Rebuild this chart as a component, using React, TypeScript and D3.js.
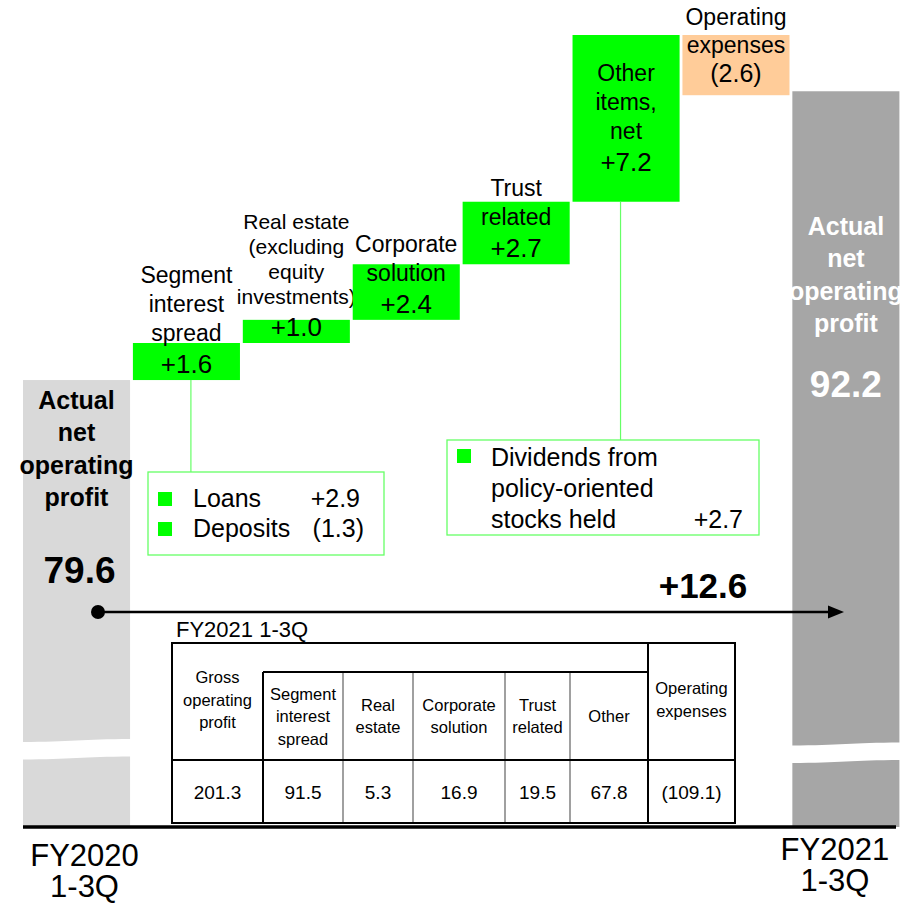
import React from "react";
import * as d3 from "d3";

const categories = ["FY2020 1-3Q", "Segment interest spread", "Real estate", "Corporate solution", "Trust related", "Other items, net", "Operating expenses", "FY2021 1-3Q"];
const startValue = 79.6;
const endValue = 92.2;
const changes = [1.6, 1.0, 2.4, 2.7, 7.2, -2.6];
const changeLabels = ["+1.6", "+1.0", "+2.4", "+2.7", "+7.2", "(2.6)"];
const changeNames = [
  ["Segment", "interest", "spread"],
  ["Real estate", "(excluding", "equity", "investments)"],
  ["Corporate", "solution"],
  ["Trust", "related"],
  ["Other", "items,", "net"],
  ["Operating", "expenses"],
];
const totalLines = ["Actual", "net", "operating", "profit"];
const startLabel = "79.6";
const endLabel = "92.2";
const diffLabel = "+12.6";
const periodLabels = [["FY2020", "1-3Q"], ["FY2021", "1-3Q"]];

const spreadBreakdown = [
  { name: "Loans", value: "+2.9" },
  { name: "Deposits", value: "(1.3)" },
];
const otherBreakdown = { lines: ["Dividends from", "policy-oriented", "stocks held"], value: "+2.7" };

const tableTitle = "FY2021 1-3Q";
const tableHeaders = [
  ["Gross", "operating", "profit"],
  ["Segment", "interest", "spread"],
  ["Real", "estate"],
  ["Corporate", "solution"],
  ["Trust", "related"],
  ["Other"],
  ["Operating", "expenses"],
];
const tableValues = ["201.3", "91.5", "5.3", "16.9", "19.5", "67.8", "(109.1)"];

const FONT = "'Liberation Sans', Arial, sans-serif";
const GREEN = "#00ff00";
const LIGHT_GREEN = "#66ff66";

export default function App() {
  const W = 905, H = 903;
  const axisY = 827;
  const y = d3.scaleLinear().domain([60.3, 94.5]).range([axisY, 35]);
  const x = d3.scaleBand<string>().domain(categories).range([23, 899.4]).paddingInner(0.026).paddingOuter(0);
  const bw = x.bandwidth();

  let cum = startValue;
  const steps = changes.map((c, i) => {
    const from = cum;
    cum = cum + c;
    return { cat: categories[i + 1], from, to: cum, change: c, label: changeLabels[i], names: changeNames[i] };
  });

  const xStart = x(categories[0])!;
  const xEnd = x(categories[7])!;

  const breakPath = (x0: number, x1: number, yTop: number, gap: number) => {
    const w = x1 - x0;
    return `M${x0},${yTop + 1.5} C${x0 + w * 0.45},${yTop + 1.5} ${x0 + w * 0.55},${yTop - 1.5} ${x1},${yTop - 1.5}
      L${x1},${yTop - 1.5 + gap} C${x0 + w * 0.55},${yTop - 1.5 + gap} ${x0 + w * 0.45},${yTop + 1.5 + gap} ${x0},${yTop + 1.5 + gap} Z`;
  };

  const tCols = [172, 263, 343, 413, 505, 570, 648, 735];
  const tTop = 643, tSub = 672, tRow = 760, tBot = 823;

  const arrowY = 612;

  return (
    <svg width={W} height={H} style={{ position: "absolute", left: 0, top: 0, background: "#fff" }} fontFamily={FONT}>
      <rect x={0} y={0} width={W} height={H} fill="#fff" />
      <rect x={xStart} y={y(startValue)} width={bw} height={axisY - y(startValue)} fill="#d9d9d9" />
      <rect x={xEnd} y={y(endValue) + 3} width={bw} height={axisY - y(endValue) - 3} fill="#a6a6a6" />
      <path d={breakPath(xStart - 1, xStart + bw + 1, 740.5, 17.5)} fill="#fff" />
      <path d={breakPath(xEnd - 1, xEnd + bw + 1, 744, 17.5)} fill="#fff" />

      {steps.map((s) => {
        const top = y(Math.max(s.from, s.to));
        const bot = y(Math.min(s.from, s.to));
        const cx = x(s.cat)! + bw / 2;
        const neg = s.change < 0;
        const valueY = neg ? bot - 13 : Math.min(bot - 7, top + 136);
        const small = s.names.length > 3;
        const fs = small ? 21 : 23;
        const gap = small ? 25 : neg ? 28 : 29;
        const firstGap = neg ? 29 : 32;
        const names = s.names;
        return (
          <g key={s.cat}>
            <rect x={x(s.cat)} y={top} width={bw} height={bot - top} fill={neg ? "#ffcc99" : GREEN} />
            <text x={cx} y={valueY} textAnchor="middle" fontSize={neg ? 25 : 26} fill="#000">{s.label}</text>
            {names.map((n, j) => (
              <text key={j} x={cx} y={valueY - firstGap - (names.length - 1 - j) * gap} textAnchor="middle" fontSize={fs} fill="#000">{n}</text>
            ))}
          </g>
        );
      })}

      <line x1={x(categories[1])! + 58} x2={x(categories[1])! + 58} y1={y(startValue)} y2={472} stroke={LIGHT_GREEN} strokeWidth={1.2} />
      <line x1={x(categories[5])! + 48} x2={x(categories[5])! + 48} y1={y(steps[4].from)} y2={440} stroke={LIGHT_GREEN} strokeWidth={1.2} />

      <rect x={148} y={472} width={236} height={83} fill="#fff" stroke={LIGHT_GREEN} strokeWidth={1.3} />
      {spreadBreakdown.map((d, i) => (
        <g key={d.name}>
          <rect x={158} y={492 + i * 30} width={14} height={14} fill={GREEN} />
          <text x={193} y={507 + i * 30} fontSize={25}>{d.name}</text>
          <text x={i === 0 ? 360 : 364} y={507 + i * 30} fontSize={25} textAnchor="end">{d.value}</text>
        </g>
      ))}

      <rect x={447} y={440} width={312} height={95} fill="#fff" stroke={LIGHT_GREEN} strokeWidth={1.3} />
      <rect x={457} y={449} width={14} height={14} fill={GREEN} />
      {otherBreakdown.lines.map((l, i) => (
        <text key={l} x={491} y={466 + i * 31} fontSize={25}>{l}</text>
      ))}
      <text x={743} y={528} fontSize={25} textAnchor="end">{otherBreakdown.value}</text>

      {totalLines.map((l, i) => (
        <text key={"s" + i} x={xStart + bw / 2} y={409 + i * 32.3} textAnchor="middle" fontSize={25} fontWeight="bold" fill="#000">{l}</text>
      ))}
      <text x={xStart + bw / 2 + 3} y={583} textAnchor="middle" fontSize={37} fontWeight="bold">{startLabel}</text>
      {totalLines.map((l, i) => (
        <text key={"e" + i} x={xEnd + bw / 2} y={235 + i * 32.3} textAnchor="middle" fontSize={25} fontWeight="bold" fill="#fff">{l}</text>
      ))}
      <text x={xEnd + bw / 2} y={397} textAnchor="middle" fontSize={37} fontWeight="bold" fill="#fff">{endLabel}</text>

      <line x1={98} x2={832} y1={arrowY} y2={arrowY} stroke="#000" strokeWidth={2.5} />
      <path d={`M828,${arrowY - 6.5} L844,${arrowY} L828,${arrowY + 6.5} Z`} fill="#000" />
      <circle cx={98} cy={arrowY} r={7} fill="#000" />
      <text x={703} y={598} textAnchor="middle" fontSize={35} fontWeight="bold">{diffLabel}</text>

      <text x={176} y={637} fontSize={22}>{tableTitle}</text>
      <rect x={tCols[0]} y={tTop} width={tCols[7] - tCols[0]} height={tBot - tTop} fill="#fff" stroke="none" />
      {[2, 3, 4, 5].map((k) => (
        <line key={k} x1={tCols[k]} x2={tCols[k]} y1={tSub} y2={tBot} stroke="#a0a0a0" strokeWidth={2} />
      ))}
      <rect x={tCols[0]} y={tTop} width={tCols[7] - tCols[0]} height={tBot - tTop} fill="none" stroke="#000" strokeWidth={2} />
      <line x1={tCols[1]} x2={tCols[1]} y1={tSub} y2={tBot} stroke="#000" strokeWidth={2} />
      <line x1={tCols[6]} x2={tCols[6]} y1={tTop} y2={tBot} stroke="#000" strokeWidth={2} />
      <line x1={tCols[1]} x2={tCols[6]} y1={tSub} y2={tSub} stroke="#000" strokeWidth={2} />
      <line x1={tCols[0]} x2={tCols[7]} y1={tRow} y2={tRow} stroke="#000" strokeWidth={2} />
      {tableHeaders.map((h, i) => {
        const cx = (tCols[i] + tCols[i + 1]) / 2;
        const isOuter = i === 0 || i === 6;
        const top = isOuter ? tTop : tSub;
        const mid = (top + tRow) / 2 + (i === 0 ? -2 : i === 6 ? -2 : 0);
        const lh = 22.5;
        return h.map((l, j) => (
          <text key={i + "-" + j} x={cx} y={mid + (j - (h.length - 1) / 2) * lh + 6} textAnchor="middle" fontSize={16.5}>{l}</text>
        ));
      })}
      {tableValues.map((v, i) => (
        <text key={"v" + i} x={(tCols[i] + tCols[i + 1]) / 2} y={799} textAnchor="middle" fontSize={19}>{v}</text>
      ))}

      <line x1={23} x2={896} y1={axisY} y2={axisY} stroke="#000" strokeWidth={3.5} />
      {periodLabels[0].map((l, i) => (
        <text key={"p0" + i} x={xStart + bw / 2 + 8} y={866 + i * 31} textAnchor="middle" fontSize={31}>{l}</text>
      ))}
      {periodLabels[1].map((l, i) => (
        <text key={"p1" + i} x={xEnd + bw / 2 - 11} y={860 + i * 31} textAnchor="middle" fontSize={31}>{l}</text>
      ))}
    </svg>
  );
}
